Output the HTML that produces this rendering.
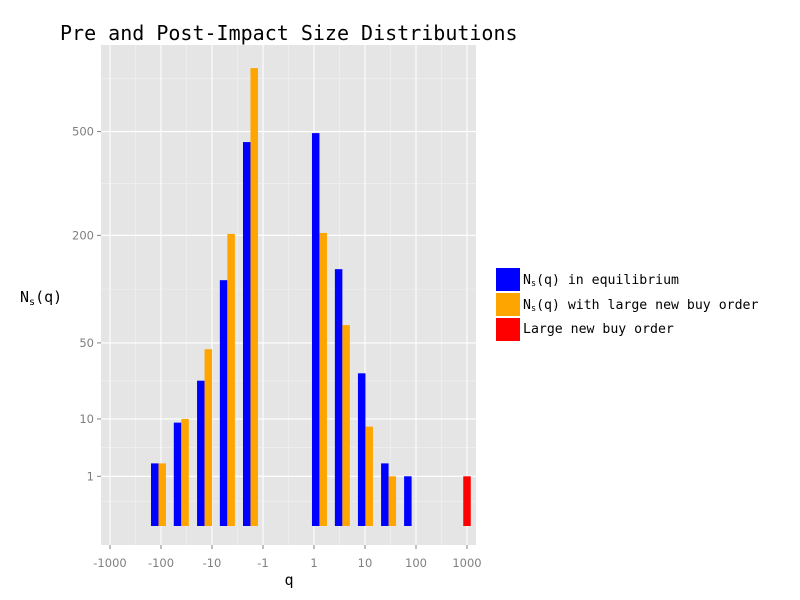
<!DOCTYPE html>
<html><head><meta charset="utf-8">
<style>
body{margin:0;background:#fff;}
svg{display:block;}
.tk{font-family:"DejaVu Sans","Liberation Sans",sans-serif;font-size:11.5px;fill:#7f7f7f;}
.mono{font-family:"DejaVu Sans Mono","Liberation Mono",monospace;}
</style></head>
<body>
<svg id="chart" width="800" height="600" xmlns="http://www.w3.org/2000/svg">
<rect width="800" height="600" fill="#fff"/>
<text class="mono" x="60" y="40" font-size="20" fill="#000">Pre and Post-Impact Size Distributions</text>
<rect x="101" y="45" width="375" height="500" fill="#e5e5e5"/>
<g id="grid"></g>
<g id="bars"></g>
<g id="axes"></g>
<text class="mono" x="289" y="585" font-size="15" text-anchor="middle">q</text>
<text class="mono" x="20" y="302" font-size="15">N<tspan font-size="10" dy="3">s</tspan><tspan dy="-3">(q)</tspan></text>
<g>
<rect x="496" y="268" width="24" height="23" fill="#0000ff"/>
<rect x="496" y="293" width="24" height="23" fill="#ffa500"/>
<rect x="496" y="318" width="24" height="23" fill="#ff0000"/>
<text class="mono" x="523" y="284" font-size="13.2">N<tspan font-size="8.5" dy="2">s</tspan><tspan dy="-2">(q) in equilibrium</tspan></text>
<text class="mono" x="523" y="309" font-size="13.2">N<tspan font-size="8.5" dy="2">s</tspan><tspan dy="-2">(q) with large new buy order</tspan></text>
<text class="mono" x="523" y="333" font-size="13.2">Large new buy order</text>
</g>
</svg>
<script>
const qBins = [-112, -40, -14, -5, -1.76, 1.28, 3.6, 10.2, 29, 82];
const equilibrium = [2, 9, 25, 121, 461, 494, 138, 29, 2, 1];
const withOrder = [2, 10, 45, 203, 782, 205, 66, 8, 1, null];
const buyOrderQ = [1000];
const buyOrder = [1];
const xTicks = [-1000, -100, -10, -1, 1, 10, 100, 1000];
const xTickLabels = ["-1000", "-100", "-10", "-1", "1", "10", "100", "1000"];
const yTicks = [1, 10, 50, 200, 500];
const yTickLabels = ["1", "10", "50", "200", "500"];

const NS = "http://www.w3.org/2000/svg";
function xs(q){ return 288.5 + Math.sign(q) * (25.5 + 51 * Math.log10(Math.abs(q))); }
function ys(v){ return 526 - 49.7 * Math.cbrt(v); }
function mk(tag, attrs, parent){ const e = document.createElementNS(NS, tag); for (const k in attrs) e.setAttribute(k, attrs[k]); parent.appendChild(e); return e; }
const grid = document.getElementById('grid'), bars = document.getElementById('bars'), axes = document.getElementById('axes');

for (let i = 0; i < xTicks.length - 1; i++) {
  const x = (xs(xTicks[i]) + xs(xTicks[i+1])) / 2;
  const l = mk('line', {x1:x, x2:x, y1:45, y2:545, stroke:'#f2f2f2', 'stroke-width':0.6}, grid);
  
  
}
const yMinor = [0].concat(yTicks);
for (let i = 0; i < yMinor.length - 1; i++) {
  const y = (ys(yMinor[i]) + ys(yMinor[i+1])) / 2;
  const l = mk('line', {x1:101, x2:476, y1:y, y2:y, stroke:'#f2f2f2', 'stroke-width':0.6}, grid);
  
  
}
{ const y = (ys(500) + 45) / 2 - 10; const l = mk('line', {x1:101, x2:476, y1:y, y2:y, stroke:'#f2f2f2', 'stroke-width':0.6}, grid);
  
   }
xTicks.forEach((q, i) => {
  const x = xs(q);
  const l = mk('line', {x1:x, x2:x, y1:45, y2:545, stroke:'#fff', 'stroke-width':1.1}, grid);
  
  
  const t = mk('line', {x1:x, x2:x, y1:545, y2:549, stroke:'#7f7f7f'}, axes);
  
  
  const tx = mk('text', {x:x, y:567, 'text-anchor':'middle', class:'tk'}, axes);
  tx.textContent = xTickLabels[i];
  
  
});
yTicks.forEach((v, i) => {
  const y = ys(v);
  const l = mk('line', {x1:101, x2:476, y1:y, y2:y, stroke:'#fff', 'stroke-width':1.1}, grid);
  
  
  const t = mk('line', {x1:97, x2:101, y1:y, y2:y, stroke:'#7f7f7f'}, axes);
  
  
  const tx = mk('text', {x:94, y:y+4, 'text-anchor':'end', class:'tk'}, axes);
  tx.textContent = yTickLabels[i];
  
  
});
const bw = 7.5;
qBins.forEach((q, i) => {
  const c = xs(q);
  const b = mk('rect', {x:c - bw, y:ys(equilibrium[i]), width:bw, height:ys(0) - ys(equilibrium[i]), fill:'#0000ff'}, bars);
  
  
  if (withOrder[i] != null) {
    const o = mk('rect', {x:c, y:ys(withOrder[i]), width:bw, height:ys(0) - ys(withOrder[i]), fill:'#ffa500'}, bars);
    
    
  }
});
buyOrderQ.forEach((q, i) => {
  const c = xs(q);
  const r = mk('rect', {x:c - bw/2, y:ys(buyOrder[i]), width:bw, height:ys(0) - ys(buyOrder[i]), fill:'#ff0000'}, bars);
  
  
});
</script>
</body></html>
